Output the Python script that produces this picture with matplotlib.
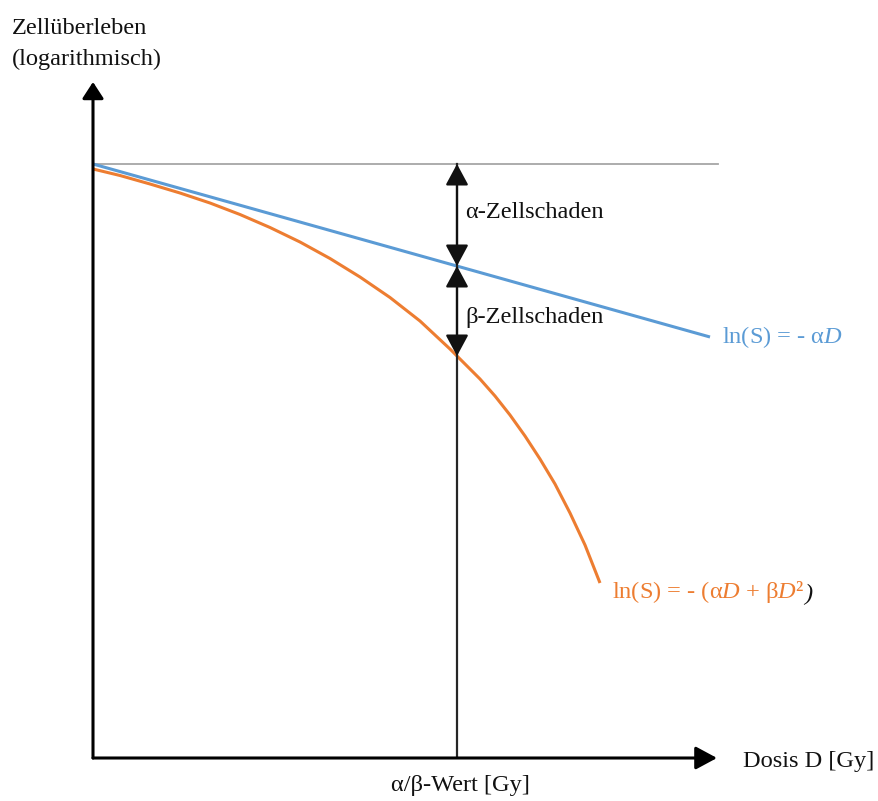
import matplotlib

matplotlib.use("Agg")
import matplotlib.pyplot as plt
from matplotlib.patches import FancyArrowPatch

# dose axis (arbitrary units) and ln(S) readings
LINEAR_DOSE = [0.0, 6.17]
LINEAR_LNS = [0.0, -1.73]

LQ_DOSE = [0.0, 0.27, 0.57, 0.87, 1.17, 1.47, 1.77, 2.07, 2.37, 2.67, 2.97, 3.27,
           3.57, 3.72, 3.87, 4.02, 4.17, 4.32, 4.47, 4.62, 4.77, 4.92, 5.07]
LQ_LNS = [-0.05, -0.115, -0.20, -0.29, -0.39, -0.505, -0.635, -0.78, -0.945, -1.13, -1.335, -1.57,
          -1.85, -2.00, -2.15, -2.32, -2.51, -2.72, -2.95, -3.20, -3.49, -3.81, -4.19]

ALPHA_BETA = 3.64
LNS_AT_AB_LINEAR = -1.02
LNS_AT_AB_LQ = -1.92
REFERENCE_END = 6.25

X_MAX, Y_MIN, Y_MAX = 6.24, -5.94, 0.82

BLUE = "#5B9BD5"
ORANGE = "#ED7D31"

plt.rcParams.update(
    {
        "font.family": ["Liberation Serif", "DejaVu Serif"],
        "mathtext.fontset": "custom",
        "mathtext.rm": "Liberation Serif",
        "mathtext.it": "Liberation Serif:italic",
        "font.size": 17.6,
    }
)

W, H = 879, 801
fig = plt.figure(figsize=(W / 100, H / 100), dpi=100)
ax = fig.add_axes([93 / W, 43 / H, 624 / W, 676 / H])
ax.set_xlim(0, X_MAX)
ax.set_ylim(Y_MIN, Y_MAX)
ax.axis("off")


def arrow(p0, p1, style, lw, color="black", hl=11, hw=7):
    a = FancyArrowPatch(
        p0,
        p1,
        arrowstyle=f"{style},head_length={hl},head_width={hw}",
        mutation_scale=1,
        shrinkA=0,
        shrinkB=0,
        lw=lw,
        color=color,
        clip_on=False,
        zorder=5,
    )
    ax.add_patch(a)


# axes with arrow heads
arrow((0, Y_MIN), (0, Y_MAX), "-|>", 2.2, hl=10, hw=6.5)
arrow((0, Y_MIN), (X_MAX, Y_MIN), "-|>", 2.2, hl=13, hw=7)

# reference level (no damage)
ax.plot([0, REFERENCE_END], [0, 0], color="#A6A6A6", lw=1.3, clip_on=False, zorder=1)

# survival curves
ax.plot(LINEAR_DOSE, LINEAR_LNS, color=BLUE, lw=2.2, solid_capstyle="butt", clip_on=False, zorder=3)
ax.plot(LQ_DOSE, LQ_LNS, color=ORANGE, lw=2.2, solid_capstyle="butt",
        solid_joinstyle="round", clip_on=False, zorder=2)

# alpha/beta marker line and damage arrows
ax.plot([ALPHA_BETA, ALPHA_BETA], [Y_MIN, 0], color="#262626", lw=1.6, zorder=4)
arrow((ALPHA_BETA, 0), (ALPHA_BETA, LNS_AT_AB_LINEAR), "<|-|>", 1.6, color="#111111", hl=13, hw=7)
arrow((ALPHA_BETA, LNS_AT_AB_LINEAR), (ALPHA_BETA, LNS_AT_AB_LQ), "<|-|>", 1.6, color="#111111", hl=13, hw=7)


def ftext(x, y, s, **kw):
    return fig.text(x / W, 1 - y / H, s, va="baseline", **kw)


ftext(12, 34, "Zellüberleben", color="#111111")
ftext(12, 65, "(logarithmisch)", color="#111111")
ftext(465, 218, "α-Zellschaden", color="#111111")
ftext(465, 323, "β-Zellschaden", color="#111111")
ftext(722, 343, r"ln(S) = - α$\mathit{D}$", color=BLUE)
t = ftext(612, 598, r"ln(S) = - (α$\mathit{D}$ + β$\mathit{D}$²", color=ORANGE)
ax.annotate(
    ")",
    xy=(1, 0),
    xycoords=t,
    xytext=(0, 0),
    textcoords="offset points",
    va="bottom",
    ha="left",
    color="#111111",
    fontstyle="italic",
    annotation_clip=False,
)
ftext(743, 767, "Dosis D [Gy]", color="#111111")
ftext(460, 791, "α/β-Wert [Gy]", color="#111111", ha="center")

fig.savefig("out.png", dpi=100, facecolor="white")
